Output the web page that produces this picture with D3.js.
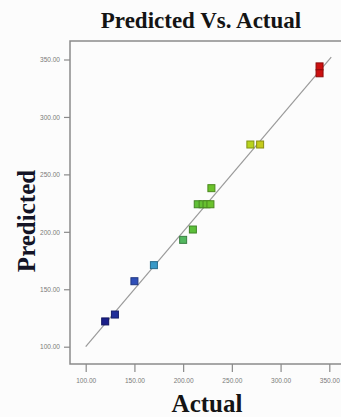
<!DOCTYPE html>
<html>
<head>
<meta charset="utf-8">
<script src="https://cdn.jsdelivr.net/npm/d3@7"></script>
<style>
  body { margin: 0; background: #fcfcfc; }
  svg { display: block; }
</style>
</head>
<body>
<svg id="chart" width="341" height="417"></svg>
<script>
// values
var actual    = [120, 130, 150, 170, 200, 210, 215, 220, 224, 228, 229, 269, 279, 340, 340];
var predicted = [122, 128, 157, 171, 193, 202, 224, 224, 224, 224, 238, 276, 276, 344, 338];
var xTicks = [100, 150, 200, 250, 300, 350];
var yTicks = [100, 150, 200, 250, 300, 350];
var diagonal = [100, 352];

var width = 341, height = 417;
var margin = {top: 41, left: 70, bottom: 53, right: 0};

var svg = d3.select("#chart");

var x = d3.scaleLinear()
    .domain([100, 350])
    .range([85.7, 329.3]);
var y = d3.scaleLinear()
    .domain([100, 350])
    .range([346.7, 59.5]);

var color = d3.scaleLinear()
    .domain([120, 150, 172, 210, 230, 275, 340])
    .range(["#1a1f8a", "#2f4fb8", "#3aa0c8", "#5cbf3a", "#6cc22a", "#c4d61c", "#cc1010"]);

var axisY = height - margin.bottom;

/* frame: top, left, bottom */
svg.append("path")
    .attr("d", "M" + width + "," + margin.top + "H" + margin.left + "V" + axisY + "H" + width)
    .attr("fill", "none")
    .attr("stroke", "#8a8a8a")
    .attr("stroke-width", 1.5);

/* x axis */
var gx = svg.append("g")
    .attr("transform", "translate(0," + axisY + ")")
    .call(d3.axisBottom(x).tickValues(xTicks).tickSize(8).tickPadding(6)
        .tickFormat(d3.format(".2f")));
gx.select(".domain").remove();
gx.selectAll("line").attr("stroke", "#8a8a8a").attr("stroke-width", 1.2);
gx.selectAll("text")
    .attr("fill", "#7a7a7a")
    .attr("font-family", "Liberation Sans Narrow, Liberation Sans, sans-serif")
    .attr("font-size", 7)
    .attr("textLength", 20)
    .attr("lengthAdjust", "spacingAndGlyphs");

/* y axis */
var gy = svg.append("g")
    .attr("transform", "translate(" + margin.left + ",0)")
    .call(d3.axisLeft(y).tickValues(yTicks).tickSize(6).tickPadding(4)
        .tickFormat(d3.format(".2f")));
gy.select(".domain").remove();
gy.selectAll("line").attr("stroke", "#8a8a8a").attr("stroke-width", 1.2);
gy.selectAll("text")
    .attr("fill", "#7a7a7a")
    .attr("font-family", "Liberation Sans Narrow, Liberation Sans, sans-serif")
    .attr("font-size", 7)
    .attr("textLength", 20)
    .attr("lengthAdjust", "spacingAndGlyphs");

/* diagonal reference line */
svg.append("line")
    .attr("x1", x(diagonal[0])).attr("y1", y(diagonal[0]))
    .attr("x2", x(diagonal[1])).attr("y2", y(diagonal[1]))
    .attr("stroke", "#9a9a9a")
    .attr("stroke-width", 1.2);

/* points */
var pts = actual.map((a, i) => ({x: a, y: predicted[i]}));
var s = 7;
svg.selectAll("rect.pt")
    .data(pts)
    .enter()
    .append("rect")
    .attr("class", "pt")
    .attr("x", d => x(d.x) - s / 2)
    .attr("y", d => y(d.y) - s / 2)
    .attr("width", s)
    .attr("height", s)
    .attr("fill", d => color(d.x))
    .attr("stroke", d => d3.color(color(d.x)).darker(1))
    .attr("stroke-width", 1);

/* title and axis labels */
svg.append("text")
    .attr("x", 201)
    .attr("y", 28)
    .attr("text-anchor", "middle")
    .attr("font-family", "Liberation Serif, serif")
    .attr("font-weight", "bold")
    .attr("font-size", 23)
    .attr("fill", "#141414")
    .text("Predicted Vs. Actual");

svg.append("text")
    .attr("x", 207)
    .attr("y", 412)
    .attr("text-anchor", "middle")
    .attr("font-family", "Liberation Serif, serif")
    .attr("font-weight", "bold")
    .attr("font-size", 25)
    .attr("fill", "#141414")
    .text("Actual");

svg.append("text")
    .attr("transform", "translate(35,221) rotate(-90)")
    .attr("text-anchor", "middle")
    .attr("font-family", "Liberation Serif, serif")
    .attr("font-weight", "bold")
    .attr("font-size", 25)
    .attr("fill", "#141426")
    .text("Predicted");
</script>
</body>
</html>
